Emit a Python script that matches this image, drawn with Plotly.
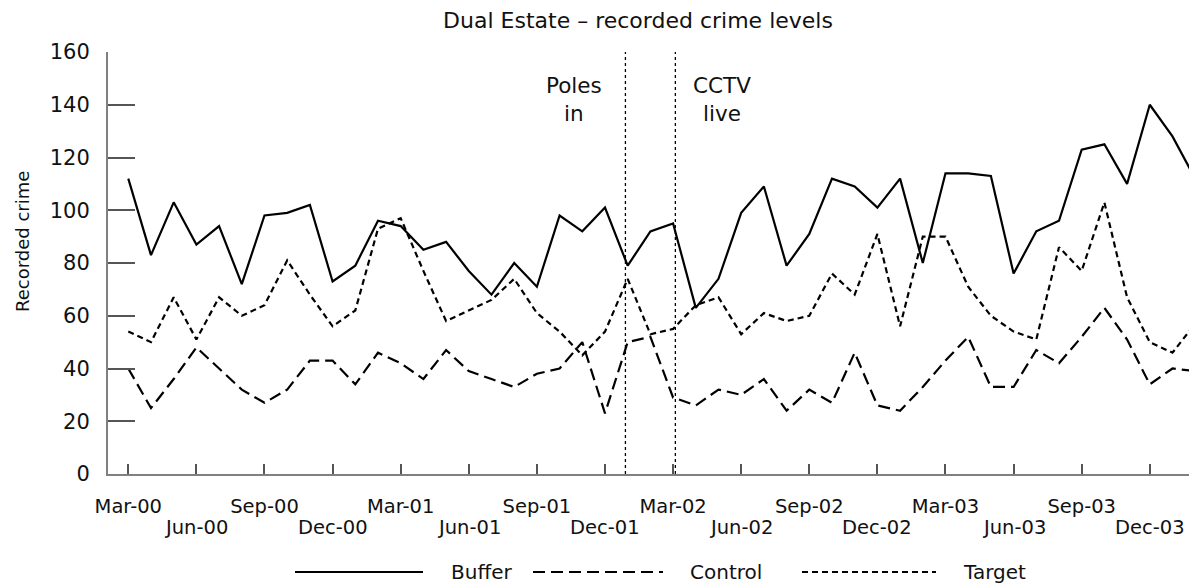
import pandas as pd
import plotly.graph_objects as go

# ---------------- data ----------------
MONTHS = [p.strftime("%b-%y") for p in pd.period_range("2000-03", periods=48, freq="M")]

BUFFER = [112, 83, 103, 87, 94, 72, 98, 99, 102, 73, 79, 96,
          94, 85, 88, 77, 68, 80, 71, 98, 92, 101, 79, 92,
          95, 63, 74, 99, 109, 79, 91, 112, 109, 101, 112, 80,
          114, 114, 113, 76, 92, 96, 123, 125, 110, 140, 128, 112]

CONTROL = [40, 25, 36, 48, 40, 32, 27, 32, 43, 43, 34, 46,
           42, 36, 47, 39, 36, 33, 38, 40, 50, 23, 50, 52,
           29, 26, 32, 30, 36, 24, 32, 27, 46, 26, 24, 33,
           43, 52, 33, 33, 47, 42, 52, 63, 51, 34, 40, 39]

TARGET = [54, 50, 67, 51, 67, 60, 64, 81, 68, 56, 62, 93,
          97, 77, 58, 62, 66, 74, 61, 54, 45, 54, 74, 53,
          55, 64, 67, 53, 61, 58, 60, 76, 68, 91, 56, 90,
          90, 71, 60, 54, 51, 86, 77, 103, 67, 50, 46, 57]

TICK_LABELS = ["Mar-00", "Jun-00", "Sep-00", "Dec-00", "Mar-01", "Jun-01",
               "Sep-01", "Dec-01", "Mar-02", "Jun-02", "Sep-02", "Dec-02",
               "Mar-03", "Jun-03", "Sep-03", "Dec-03"]
Y_TICKS = [0, 20, 40, 60, 80, 100, 120, 140, 160]

# event markers (month position on the category axis)
POLES_IN = 21.9
CCTV_LIVE = 24.1

# ---------------- styling ----------------
FONT = "DejaVu Sans, Liberation Sans, Arial, sans-serif"
TXT = "#111"
OFF = 8                       # page body margin of the html page
PAGE_W, PAGE_H = 1197, 585
W, H = PAGE_W - OFF, PAGE_H - OFF
# plot area in page pixels: x 108..1197, y 52..474
PL, PT, PB = 108, 52, 474
ML, MT = PL - OFF, PT - OFF
MR = 0
MB = H - (PB - OFF)
PW = W - ML - MR
PH = PB - PT
XMIN, XMAX = -0.894, 47.08

DASH_CONTROL = "12px,6px"
DASH_TARGET = "6px,4px"

fig = go.Figure()
fig.add_trace(go.Scatter(x=MONTHS, y=BUFFER, mode="lines", name="Buffer",
                         line=dict(color="black", width=2.2), showlegend=False))
fig.add_trace(go.Scatter(x=MONTHS, y=CONTROL, mode="lines", name="Control",
                         line=dict(color="black", width=2.2, dash=DASH_CONTROL), showlegend=False))
fig.add_trace(go.Scatter(x=MONTHS, y=TARGET, mode="lines", name="Target",
                         line=dict(color="black", width=2.2, dash=DASH_TARGET), showlegend=False))

# staggered tick labels: first row on the axis, second row as annotations
row1 = [t if k % 2 == 0 else "" for k, t in enumerate(TICK_LABELS)]
row2 = [t for k, t in enumerate(TICK_LABELS) if k % 2 == 1]

fig.update_layout(
    width=W, height=H,
    margin=dict(l=ML, r=MR, t=MT, b=MB, pad=0),
    paper_bgcolor="white", plot_bgcolor="white",
    font=dict(family=FONT, color="black"),
    title=dict(text="Dual Estate – recorded crime levels", x=(638 - OFF) / W, xref="container",
               xanchor="center", y=1 - (20 - OFF) / H, yref="container", yanchor="middle",
               font=dict(size=22, family=FONT, color=TXT)),
    xaxis=dict(type="category", range=[XMIN, XMAX], tickmode="array",
               tickvals=TICK_LABELS, ticktext=row1,
               ticks="inside", ticklen=10, tickwidth=1.5, tickcolor="#555",
               showline=True, linecolor="#808080", linewidth=2,
               showgrid=False, zeroline=False,
               tickfont=dict(size=19.5, family=FONT, color=TXT),
               ticklabelstandoff=14),
    yaxis=dict(range=[0, 160], tickmode="array", tickvals=Y_TICKS,
               ticks="inside", ticklen=27, tickwidth=1.5, tickcolor="#555",
               showline=True, linecolor="#808080", linewidth=2,
               showgrid=False, zeroline=False,
               tickfont=dict(size=21, family=FONT, color=TXT),
               ticklabelstandoff=12),
)

def pyp(py):
    return (PB - py) / PH

def pxp(px):
    return (px - PL) / PW

# y-axis title
fig.add_annotation(text="Recorded crime", xref="paper", yref="paper", x=pxp(22), y=pyp(242),
                   textangle=-90, showarrow=False, xanchor="center", yanchor="middle",
                   font=dict(size=18, family=FONT, color=TXT))

for lab in row2:
    fig.add_annotation(text=lab, x=lab, xref="x", y=pyp(527), yref="paper",
                       showarrow=False, xanchor="center", yanchor="middle",
                       font=dict(size=19.5, family=FONT, color=TXT))

# event lines
for xv in (POLES_IN, CCTV_LIVE):
    fig.add_shape(type="line", xref="x", yref="y", x0=xv, x1=xv, y0=0, y1=160,
                  line=dict(color="black", width=1.3, dash="3px,3px"))

def px_to_x(px):
    return XMIN + (px - PL) / PW * (XMAX - XMIN)

def py_to_y(py):
    return (PB - py) / PH * 160

ann_font = dict(size=21.5, family=FONT, color=TXT)
for txt, px, py in (("Poles<br>in", 574, 99.5), ("CCTV<br>live", 722, 99)):
    fig.add_annotation(text=txt, x=px_to_x(px), y=py_to_y(py), xref="x", yref="y",
                       showarrow=False, xanchor="center", yanchor="middle", align="center",
                       font=ann_font)

# legend (drawn manually to match the long line samples)
LEG_Y = 572
for (x0, x1, dash, label, tx) in ((295, 423, "solid", "Buffer", 449),
                                  (533, 663, DASH_CONTROL, "Control", 688),
                                  (802, 936, DASH_TARGET, "Target", 961)):
    fig.add_shape(type="line", xref="paper", yref="paper", x0=pxp(x0), x1=pxp(x1),
                  y0=pyp(LEG_Y), y1=pyp(LEG_Y), line=dict(color="black", width=2, dash=dash))
    fig.add_annotation(text=label, xref="paper", yref="paper", x=pxp(tx), y=pyp(LEG_Y),
                       xanchor="left", yanchor="middle", showarrow=False,
                       font=dict(size=20, family=FONT, color=TXT))

fig.write_html("out.html")
